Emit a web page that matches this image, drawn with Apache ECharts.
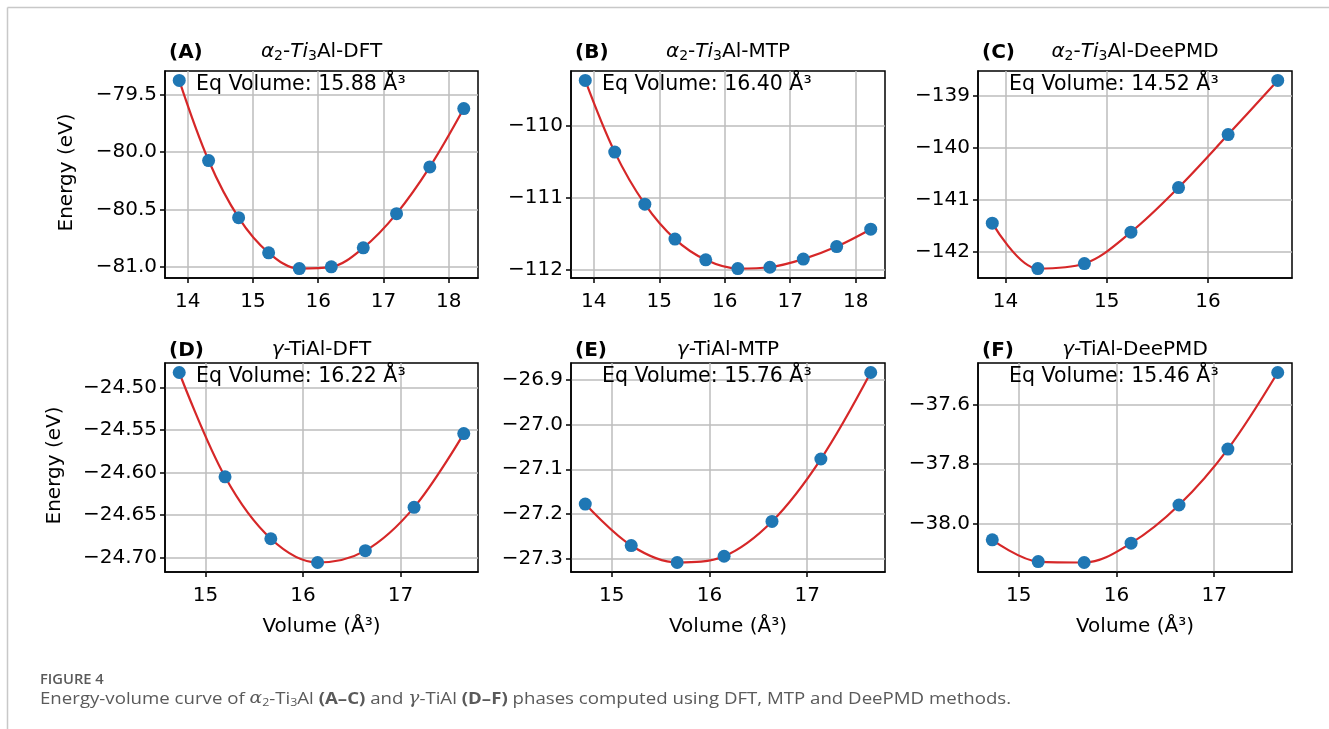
<!DOCTYPE html>
<html>
<head>
<meta charset="utf-8">
<script src="https://cdn.jsdelivr.net/npm/echarts@6/dist/echarts.min.js"></script>
<style>
html,body{margin:0;padding:0;background:#fff;}
#chart{width:1329px;height:729px;}
</style>
</head>
<body>
<div id="chart"></div>
<script>
// ---- data ----
var volAlpha = [13.87, 14.32, 14.78, 15.24, 15.71, 16.20, 16.69, 17.20, 17.71, 18.23];
var volAlphaC = [13.87, 14.32, 14.78, 15.24, 15.71, 16.20, 16.69];
var volGamma = [14.73, 15.20, 15.67, 16.15, 16.64, 17.14, 17.65];

var energyA = [-79.374, -80.074, -80.573, -80.880, -81.018, -81.003, -80.837, -80.538, -80.130, -79.620];
var energyB = [-109.371, -110.366, -111.088, -111.573, -111.861, -111.982, -111.963, -111.850, -111.676, -111.435];
var energyC = [-141.448, -142.318, -142.222, -141.620, -140.766, -139.751, -138.713];
var energyD = [-24.482, -24.605, -24.678, -24.706, -24.692, -24.641, -24.554];
var energyE = [-27.178, -27.271, -27.309, -27.295, -27.217, -27.077, -26.883];
var energyF = [-38.054, -38.127, -38.130, -38.065, -37.937, -37.749, -37.492];

var xTicksAB = [14, 15, 16, 17, 18];
var xTicksC = [14, 15, 16];
var xTicksDEF = [15, 16, 17];
var yTicksA = [-81.0, -80.5, -80.0, -79.5];
var yTicksB = [-112, -111, -110];
var yTicksC = [-142, -141, -140, -139];
var yTicksD = [-24.70, -24.65, -24.60, -24.55, -24.50];
var yTicksE = [-27.3, -27.2, -27.1, -27.0, -26.9];
var yTicksF = [-38.0, -37.8, -37.6];

var panelLetters = ['(A)', '(B)', '(C)', '(D)', '(E)', '(F)'];
var eqVolumes = ['15.88', '16.40', '14.52', '16.22', '15.76', '15.46'];

// ---- layout ----
var FONT = 'DejaVu Sans';
var colLeft = [165, 571, 978];
var colWidth = [313, 314, 314];
var rowTop = [71, 363];
var rowHeight = [207, 209];

var panels = [
  {x: volAlpha,  y: energyA, xt: xTicksAB,  yt: yTicksA, yd: 1, xd: 0},
  {x: volAlpha,  y: energyB, xt: xTicksAB,  yt: yTicksB, yd: 0, xd: 0},
  {x: volAlphaC, y: energyC, xt: xTicksC,   yt: yTicksC, yd: 0, xd: 0},
  {x: volGamma,  y: energyD, xt: xTicksDEF, yt: yTicksD, yd: 2, xd: 0},
  {x: volGamma,  y: energyE, xt: xTicksDEF, yt: yTicksE, yd: 1, xd: 0},
  {x: volGamma,  y: energyF, xt: xTicksDEF, yt: yTicksF, yd: 1, xd: 0}
];

function ext(arr) {
  var mn = Math.min.apply(null, arr), mx = Math.max.apply(null, arr);
  var m = (mx - mn) * 0.05;
  return [mn - m, mx + m];
}
function fmt(d) {
  return function (v) { return v.toFixed(d).replace('-', '\u2212'); };
}

var grids = [], xAxes = [], yAxes = [], series = [], graphics = [];

panels.forEach(function (p, i) {
  var col = i % 3, row = Math.floor(i / 3);
  grids.push({
    left: colLeft[col], top: rowTop[row], width: colWidth[col], height: rowHeight[row],
    show: true, borderColor: '#000', borderWidth: 1.5, containLabel: false
  });
  var xe = ext(p.x), ye = ext(p.y);
  var axisCommon = {
    axisLine: {show: true, onZero: false, lineStyle: {color: '#000', width: 1.5}},
    axisTick: {show: true, length: 5, lineStyle: {color: '#000', width: 1.5}},
    splitLine: {show: true, lineStyle: {color: '#bcbcbc', width: 1.5}}
  };
  xAxes.push(Object.assign({}, axisCommon, {
    type: 'value', gridIndex: i, min: xe[0], max: xe[1],
    axisTick: Object.assign({}, axisCommon.axisTick, {customValues: p.xt}),
    axisLabel: {customValues: p.xt, formatter: fmt(p.xd), color: '#000', fontSize: 20, fontFamily: FONT, margin: 14}
  }));
  yAxes.push(Object.assign({}, axisCommon, {
    type: 'value', gridIndex: i, min: ye[0], max: ye[1],
    axisTick: Object.assign({}, axisCommon.axisTick, {customValues: p.yt}),
    axisLabel: {customValues: p.yt, formatter: fmt(p.yd), color: '#000', fontSize: 20, fontFamily: FONT, margin: 8}
  }));
  var pts = p.x.map(function (v, k) { return [v, p.y[k]]; });
  series.push({
    type: 'line', xAxisIndex: i, yAxisIndex: i, data: pts, smooth: 0.35,
    showSymbol: false, symbol: 'none', lineStyle: {color: '#d62728', width: 2.2}, z: 2, silent: true
  });
  series.push({
    type: 'scatter', xAxisIndex: i, yAxisIndex: i, data: pts, symbolSize: 13,
    itemStyle: {color: '#1f77b4', opacity: 1}, z: 3, silent: true
  });

  var gl = colLeft[col], gt = rowTop[row];
  var titleY = row === 0 ? 53 : 351;
  graphics.push({type: 'text', x: gl + 4, y: titleY, style: {
    text: panelLetters[i], fontSize: 20, fontWeight: 'bold', fontFamily: FONT, fill: '#000',
    align: 'left', verticalAlign: 'middle', textAlign: 'left', textVerticalAlign: 'middle'}});
  graphics.push({type: 'text', x: gl + 31, y: gt + 14, z: 10, style: {
    text: 'Eq Volume: ' + eqVolumes[i] + ' \u00C5\u00B3', fontSize: 20.5, fontFamily: FONT, fill: '#000',
    align: 'left', verticalAlign: 'middle', textAlign: 'left', textVerticalAlign: 'middle'}});
});

var titleRich = {
  i: {fontStyle: 'italic', fontSize: 20, fontFamily: FONT, fill: '#000', color: '#000'},
  s: {fontSize: 14, fontFamily: FONT, fill: '#000', color: '#000', padding: [8, 0, 0, 0]},
  n: {fontSize: 20, fontFamily: FONT, fill: '#000', color: '#000'}
};
var titles = [
  '{i|\u03B1}{s|2}{n|-}{i|Ti}{s|3}{n|Al-DFT}',
  '{i|\u03B1}{s|2}{n|-}{i|Ti}{s|3}{n|Al-MTP}',
  '{i|\u03B1}{s|2}{n|-}{i|Ti}{s|3}{n|Al-DeePMD}',
  '{i|\u03B3}{n|-TiAl-DFT}',
  '{i|\u03B3}{n|-TiAl-MTP}',
  '{i|\u03B3}{n|-TiAl-DeePMD}'
];
titles.forEach(function (t, i) {
  var col = i % 3, row = Math.floor(i / 3);
  graphics.push({type: 'text', x: colLeft[col] + colWidth[col] / 2, y: row === 0 ? 52 : 350, style: {
    text: t, rich: titleRich, fontSize: 20, fontFamily: FONT, fill: '#000',
    align: 'center', verticalAlign: 'middle', textAlign: 'center', textVerticalAlign: 'middle'}});
});

[0, 1].forEach(function (row) {
  graphics.push({type: 'text', x: row === 0 ? 67 : 55, y: rowTop[row] + rowHeight[row] / 2 - 2, rotation: Math.PI / 2,
    style: {text: 'Energy (eV)', fontSize: 20, fontFamily: FONT, fill: '#000',
      align: 'center', verticalAlign: 'middle', textAlign: 'center', textVerticalAlign: 'middle'}});
});
[0, 1, 2].forEach(function (col) {
  graphics.push({type: 'text', x: colLeft[col] + colWidth[col] / 2, y: 627,
    style: {text: 'Volume (\u00C5\u00B3)', fontSize: 20, fontFamily: FONT, fill: '#000',
      align: 'center', verticalAlign: 'middle', textAlign: 'center', textVerticalAlign: 'middle'}});
});

graphics.push({type: 'line', shape: {x1: 7.5, y1: 7.5, x2: 1329, y2: 7.5}, style: {stroke: '#c8c8c8', lineWidth: 1.5}});
graphics.push({type: 'line', shape: {x1: 7.5, y1: 7.5, x2: 7.5, y2: 729}, style: {stroke: '#c8c8c8', lineWidth: 1.5}});

var CAP = 'Open Sans';
graphics.push({type: 'text', x: 40, y: 680, scaleX: 1.09, style: {text: 'FIGURE 4', fontSize: 13.5, fontWeight: 600, fontFamily: CAP, fill: '#5a5a5a',
  align: 'left', verticalAlign: 'middle', textAlign: 'left', textVerticalAlign: 'middle'}});
var capRich = {
  n: {fontSize: 16.5, fontFamily: CAP, fill: '#5a5a5a', color: '#5a5a5a'},
  b: {fontSize: 16.5, fontFamily: CAP, fontWeight: 'bold', fill: '#5a5a5a', color: '#5a5a5a'},
  i: {fontSize: 16.5, fontFamily: 'DejaVu Serif', fontStyle: 'italic', fill: '#5a5a5a', color: '#5a5a5a'},
  s: {fontSize: 11, fontFamily: CAP, fill: '#5a5a5a', color: '#5a5a5a', padding: [7, 0, 0, 0]}
};
graphics.push({type: 'text', x: 40, y: 699, scaleX: 1.13, style: {
  text: '{n|Energy-volume curve of }{i|\u03B1}{s|2}{n|-Ti}{s|3}{n|Al }{b|(A\u2013C)}{n| and }{i|\u03B3}{n|-TiAl }{b|(D\u2013F)}{n| phases computed using DFT, MTP and DeePMD methods.}',
  rich: capRich, fontSize: 16.5, fontFamily: CAP, fill: '#5a5a5a',
  align: 'left', verticalAlign: 'middle', textAlign: 'left', textVerticalAlign: 'middle'}});

var chart = echarts.init(document.getElementById('chart'), null, {renderer: 'canvas'});
chart.setOption({
  animation: false,
  backgroundColor: '#fff',
  grid: grids,
  xAxis: xAxes,
  yAxis: yAxes,
  series: series,
  graphic: graphics
});
</script>
</body>
</html>
